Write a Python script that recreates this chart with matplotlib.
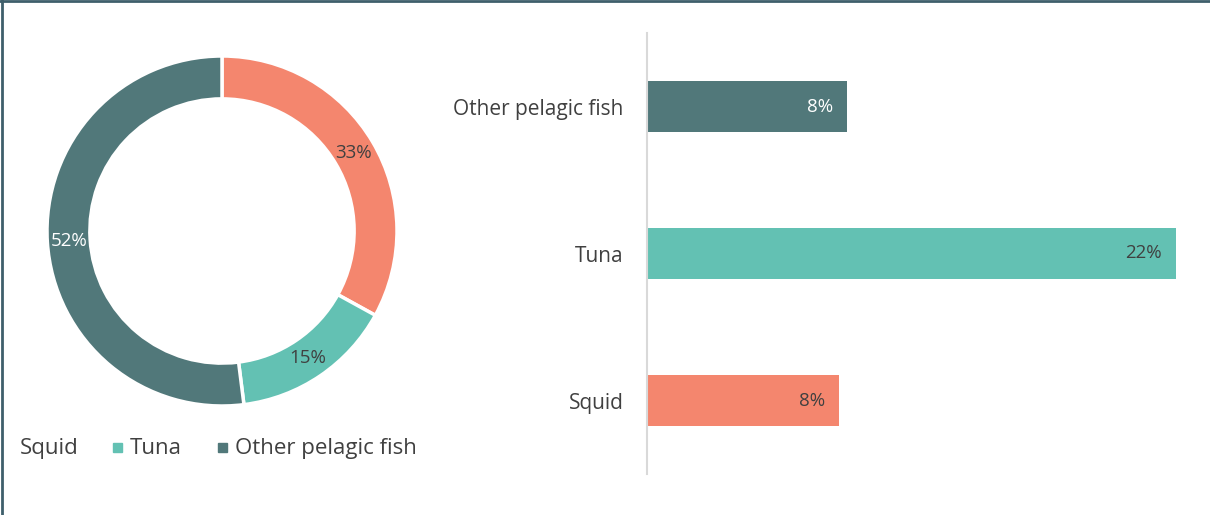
import matplotlib
matplotlib.use("Agg")
import matplotlib.pyplot as plt
from matplotlib.patches import Rectangle
from matplotlib.lines import Line2D

plt.rcParams['font.family'] = ['Open Sans', 'DejaVu Sans']

# donut shares
donut_labels = ["Squid", "Tuna", "Other pelagic fish"]
donut_values = [33, 15, 52]

# bar shares (bottom to top)
bar_labels = ["Squid", "Tuna", "Other pelagic fish"]
bar_values = [8.0, 22.0, 8.3]

c_squid = "#F4866E"
c_tuna = "#63C1B3"
c_other = "#51787A"
txt = "#404040"
colors = [c_squid, c_tuna, c_other]

W, H = 1210, 515
fig = plt.figure(figsize=(W / 100, H / 100), dpi=100)

def px_axes(x0, y0, x1, y1):
    # pixel box (top-left origin) -> figure axes
    return fig.add_axes([x0 / W, 1 - y1 / H, (x1 - x0) / W, (y1 - y0) / H])

# donut
ax1 = px_axes(47, 56, 397, 406)
wedges, texts, autotexts = ax1.pie(
    donut_values, colors=colors, startangle=90, counterclock=False,
    radius=1.0, autopct="%d%%", pctdistance=0.875,
    wedgeprops=dict(width=0.245, edgecolor="white", linewidth=2.5),
    textprops=dict(fontsize=13.5, color=txt))
autotexts[2].set_color("white")
ax1.set_xlim(-1, 1)
ax1.set_ylim(-1, 1)
ax1.set_aspect("equal")
ax1.axis("off")

# legend drawn by hand
ly = 1 - 454 / H
fig.text(20 / W, ly, donut_labels[0], fontsize=16, color=txt, va="baseline")
for mx, col, lab in [(113, c_tuna, donut_labels[1]), (218, c_other, donut_labels[2])]:
    fig.patches.append(Rectangle((mx / W, 1 - 452 / H), 9 / W, 9 / H,
                                 transform=fig.transFigure, color=col))
    fig.text((mx + 17) / W, ly, lab, fontsize=16, color=txt, va="baseline")

# bar chart
ax2 = px_axes(647, 33, 1200, 474)
ypos = list(range(len(bar_values)))
ax2.barh(ypos, bar_values, height=0.35, color=colors)
ax2.set_xlim(0, 553 / 24.05)
ax2.set_ylim(-0.5, 2.5)
ax2.set_yticks(ypos)
ax2.set_yticklabels(bar_labels, fontsize=15, color=txt)
ax2.tick_params(axis="y", length=0, pad=17)
ax2.set_xticks([])
for s in ["top", "right", "bottom"]:
    ax2.spines[s].set_visible(False)
ax2.spines["left"].set_color("#D9D9D9")
ax2.spines["left"].set_linewidth(1.5)

label_cols = [txt, txt, "white"]
for y, v, col in zip(ypos, bar_values, label_cols):
    ax2.annotate(f"{v:.0f}%", (v, y), xytext=(-10, 0), textcoords="offset points",
                 ha="right", va="center", fontsize=13.5, color=col)

# frame on the top and left edges
fig.add_artist(Line2D([2 / W, 2 / W], [0, 1], transform=fig.transFigure,
                      color="#3F5F6B", linewidth=2))
fig.add_artist(Line2D([0, 1], [1 - 1 / H, 1 - 1 / H], transform=fig.transFigure,
                      color="#3F5F6B", linewidth=2))

fig.savefig("out.png", dpi=100, facecolor="white")
